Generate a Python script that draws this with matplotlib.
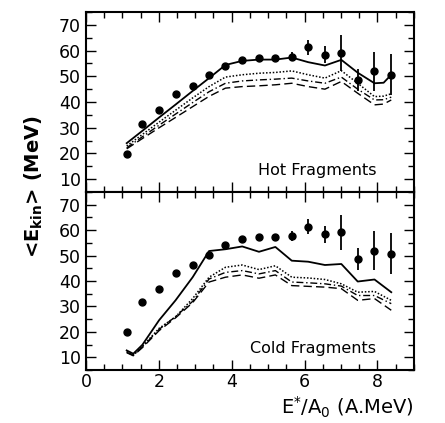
import numpy as np
import matplotlib.pyplot as plt
from matplotlib.ticker import MultipleLocator

# data points (same for both panels)
x_pts = [1.12, 1.55, 2.01, 2.46, 2.93, 3.38, 3.83, 4.29, 4.75, 5.20,
         5.65, 6.10, 6.56, 7.01, 7.46, 7.92, 8.38]
e_pts = [19.8, 31.6, 36.8, 43.3, 46.2, 50.4, 54.0, 56.5, 57.2, 57.2,
         57.7, 61.3, 58.4, 59.1, 48.6, 52.0, 50.7]
e_err = [0.5, 0.5, 0.5, 0.5, 0.5, 0.5, 0.6, 0.7, 0.8, 1.2,
         1.8, 2.9, 3.4, 7.0, 4.2, 7.6, 8.1]

# model curves, hot fragments
x_hot = [1.12, 1.55, 2.01, 2.46, 2.93, 3.38, 3.83, 4.29, 4.75, 5.20,
         5.65, 6.10, 6.56, 7.01, 7.46, 7.92, 8.17, 8.38]
hot_solid = [24.0, 28.8, 34.0, 39.0, 44.3, 49.3, 54.4, 56.0, 56.5, 56.5,
             57.3, 55.5, 54.2, 56.4, 51.4, 47.3, 47.5, 50.6]
hot_dot = [22.9, 27.4, 32.2, 36.8, 41.6, 46.0, 49.7, 50.6, 51.2, 51.5,
           52.1, 50.6, 49.3, 52.2, 47.3, 42.1, 42.3, 43.2]
hot_dashdot = [22.2, 26.5, 31.0, 35.3, 39.8, 44.0, 47.3, 48.2, 48.6, 48.9,
               49.3, 48.2, 47.3, 49.7, 45.0, 40.8, 40.9, 41.9]
hot_dash = [21.8, 25.8, 30.0, 34.0, 38.2, 42.2, 45.4, 46.0, 46.3, 46.7,
            47.3, 46.0, 45.0, 48.0, 43.4, 38.9, 39.2, 40.8]

# model curves, cold fragments
x_cold = [1.12, 1.30, 1.55, 2.01, 2.46, 2.93, 3.38, 3.83, 4.29, 4.75,
          5.20, 5.65, 6.10, 6.56, 7.01, 7.46, 7.92, 8.38]
cold_solid = [12.7, 11.4, 14.9, 24.6, 32.4, 41.5, 51.8, 52.5, 53.6, 51.5,
              53.4, 48.0, 47.6, 46.3, 46.7, 39.8, 40.6, 35.6]
cold_dot = [12.3, 11.0, 14.3, 21.4, 25.9, 33.1, 41.5, 45.4, 46.3, 44.5,
            46.0, 41.5, 41.2, 40.6, 38.9, 35.6, 35.9, 32.4]
cold_dashdot = [12.0, 10.8, 14.0, 21.0, 26.0, 32.0, 40.8, 43.4, 44.1, 42.8,
                44.1, 39.6, 39.3, 38.9, 38.0, 34.3, 34.3, 31.1]
cold_dash = [11.8, 10.6, 13.8, 20.5, 25.5, 31.5, 39.6, 41.5, 42.4, 41.1,
             42.4, 38.2, 37.9, 37.6, 37.0, 32.4, 33.1, 28.5]

fig = plt.figure(figsize=(4.45, 4.23), dpi=100)
ax1 = fig.add_axes([0.193, 0.546, 0.737, 0.4256])
ax2 = fig.add_axes([0.193, 0.1253, 0.737, 0.4207])

panels = [(ax1, x_hot, hot_solid, hot_dot, hot_dashdot, hot_dash, "Hot Fragments"),
          (ax2, x_cold, cold_solid, cold_dot, cold_dashdot, cold_dash, "Cold Fragments")]

for ax, xs, s, d, dd, da, label in panels:
    ax.plot(xs, s, color='black', lw=1.3, ls='-')
    ax.plot(xs, d, color='black', lw=1.1, ls=(0, (1, 1.2)))
    ax.plot(xs, dd, color='black', lw=1.0, ls=(0, (5, 2, 1, 2)))
    ax.plot(xs, da, color='black', lw=1.0, ls=(0, (6, 3)))
    ax.errorbar(x_pts, e_pts, yerr=e_err, fmt='o', color='black',
                markersize=5, elinewidth=1.3, capsize=0)
    ax.set_xlim(0, 9)
    ax.set_ylim(5, 75)
    ax.xaxis.set_major_locator(MultipleLocator(2))
    ax.xaxis.set_minor_locator(MultipleLocator(0.5))
    ax.yaxis.set_major_locator(MultipleLocator(10))
    ax.yaxis.set_minor_locator(MultipleLocator(5))
    ax.tick_params(which='both', direction='in', top=True, right=True,
                   labelsize=12.5)
    ax.tick_params(which='major', length=7, width=1)
    ax.tick_params(which='minor', length=4, width=1)
    for sp in ax.spines.values():
        sp.set_linewidth(1.5)
    ax.text(0.885, 0.12, label, transform=ax.transAxes, ha='right', va='center',
            fontsize=11.5)
    ax.set_yticks([10, 20, 30, 40, 50, 60, 70])

ax1.tick_params(labelbottom=False)
ax2.set_xticks([0, 2, 4, 6, 8])
ax2.tick_params(axis='x', pad=2)

fig.text(0.075, 0.558, r'<E$_{\mathbf{kin}}$> (MeV)',
         rotation=90, ha='center', va='center', fontsize=14, fontweight='bold')
fig.text(0.93, 0.036, r'E$^{*}$/A$_{0}$ (A.MeV)', ha='right', va='center',
         fontsize=14)

fig.savefig('out.png', dpi=100)
